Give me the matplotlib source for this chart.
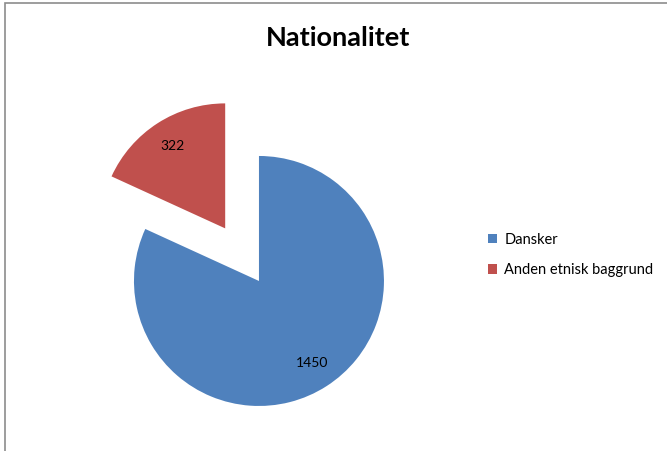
import matplotlib.pyplot as plt
from matplotlib.patches import Rectangle

# data
categories = ["Dansker", "Anden etnisk baggrund"]
counts = [1450, 322]
colors = ["#4F81BD", "#C0504D"]
explode = [0, 0.5]

plt.rcParams['font.family'] = ['Lato', 'DejaVu Sans']

fig = plt.figure(figsize=(6.67, 4.51), dpi=100)
ax = fig.add_axes([0.154, 0.0305, 0.4685, 0.693])

wedges, texts, autotexts = ax.pie(
    counts, colors=colors, explode=explode, startangle=90, counterclock=False,
    autopct=lambda p: f"{p * sum(counts) / 100:.0f}", pctdistance=0.78,
    textprops={'fontsize': 10, 'color': 'black'})
ax.set_xlim(-1.25, 1.25)
ax.set_ylim(-1.25, 1.25)
ax.set_aspect('equal')
ax.axis('off')

fig.text(338 / 667, 1 - 38 / 451, "Nationalitet", ha='center', va='center',
         fontsize=19.5, fontweight='bold')

fig.legend(wedges, categories, loc='center left',
           bbox_to_anchor=(475 / 667, 1 - 255 / 451), frameon=False,
           fontsize=10.5, handlelength=0.6, handleheight=0.6,
           handletextpad=0.5, labelspacing=1.1)

# chart border (cropped at right and bottom in the reference)
fig.add_artist(Rectangle((4.5 / 667, -0.1), 1.2, 1.1 - 2.5 / 451,
                         transform=fig.transFigure, fill=False,
                         edgecolor='#8c8c8c', linewidth=1.2))

fig.savefig("out.png", dpi=100)
